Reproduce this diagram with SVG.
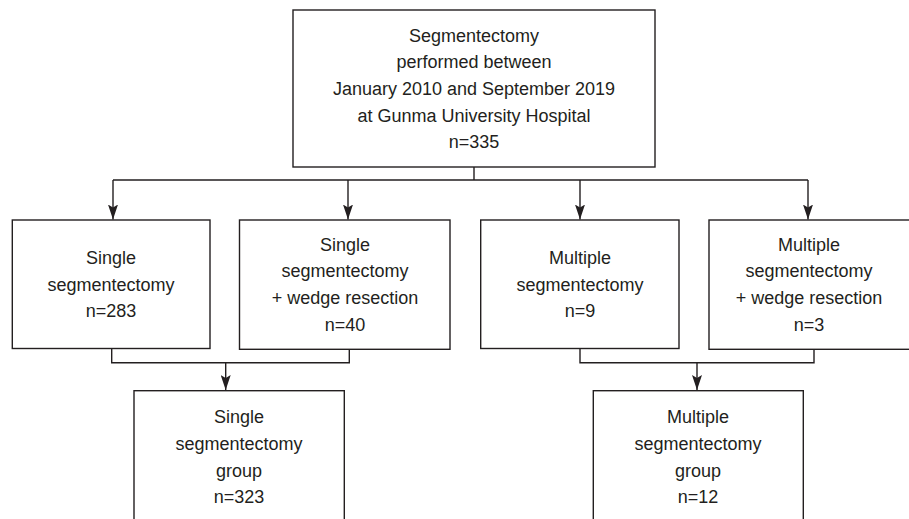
<svg xmlns="http://www.w3.org/2000/svg" width="909" height="519" viewBox="0 0 909 519">
<style>
.box{fill:#fff;stroke:#231f20;stroke-width:1.4}
.ln{fill:none;stroke:#231f20;stroke-width:1.4}
text{font-family:"Liberation Sans",Arial,Helvetica,sans-serif;font-size:18px;fill:#231f20;text-anchor:middle}
</style>
<defs>
<marker id="arr" viewBox="0 -5 15 10" refX="15" refY="0" markerWidth="15" markerHeight="10" markerUnits="userSpaceOnUse" orient="auto">
<path d="M0,-5 L15,0 L0,5 L3,0 z" fill="#231f20"/>
</marker>
</defs>
<rect width="909" height="519" fill="#fff"/>
<g id="connectors">
<path class="ln" d="M474,167 V180 M113,180 H808"/>
<path class="ln" d="M113,180 V219.5" marker-end="url(#arr)"/>
<path class="ln" d="M348,180 V219.5" marker-end="url(#arr)"/>
<path class="ln" d="M580,180 V219.5" marker-end="url(#arr)"/>
<path class="ln" d="M808,180 V219.5" marker-end="url(#arr)"/>
<path class="ln" d="M111.7,348.5 V362.7 H349.3 V349.3"/>
<path class="ln" d="M225.7,362.7 V390" marker-end="url(#arr)"/>
<path class="ln" d="M580,348.5 V362.7 H814 V349.3"/>
<path class="ln" d="M697,362.7 V390" marker-end="url(#arr)"/>
</g>
<g id="top">
<rect class="box" x="293" y="10" width="362" height="157"/>
<text x="474" y="41.6">Segmentectomy</text>
<text x="474" y="68.3">performed between</text>
<text x="474" y="95">January 2010 and September 2019</text>
<text x="474" y="121.7">at Gunma University Hospital</text>
<text x="474" y="148.4">n=335</text>
</g>
<g id="single">
<rect class="box" x="12.3" y="220" width="197.7" height="128.5"/>
<text x="111" y="264">Single</text>
<text x="111" y="290.5">segmentectomy</text>
<text x="111" y="317">n=283</text>
</g>
<g id="single-wedge">
<rect class="box" x="239.5" y="220" width="210.5" height="129.3"/>
<text x="345" y="250.5">Single</text>
<text x="345" y="277">segmentectomy</text>
<text x="345" y="304">+ wedge resection</text>
<text x="345" y="330.5">n=40</text>
</g>
<g id="multiple">
<rect class="box" x="480.7" y="220" width="198.3" height="128.5"/>
<text x="580" y="264">Multiple</text>
<text x="580" y="290.5">segmentectomy</text>
<text x="580" y="317">n=9</text>
</g>
<g id="multiple-wedge">
<rect class="box" x="709" y="220" width="202" height="129.3"/>
<text x="809" y="250.5">Multiple</text>
<text x="809" y="277">segmentectomy</text>
<text x="809" y="304">+ wedge resection</text>
<text x="809" y="330.5">n=3</text>
</g>
<g id="single-group">
<rect class="box" x="134" y="390.7" width="210.3" height="140"/>
<text x="239" y="423">Single</text>
<text x="239" y="450">segmentectomy</text>
<text x="239" y="476.5">group</text>
<text x="239" y="503">n=323</text>
</g>
<g id="multiple-group">
<rect class="box" x="593.3" y="390.7" width="210" height="140"/>
<text x="698" y="423">Multiple</text>
<text x="698" y="450">segmentectomy</text>
<text x="698" y="476.5">group</text>
<text x="698" y="503">n=12</text>
</g>
</svg>
